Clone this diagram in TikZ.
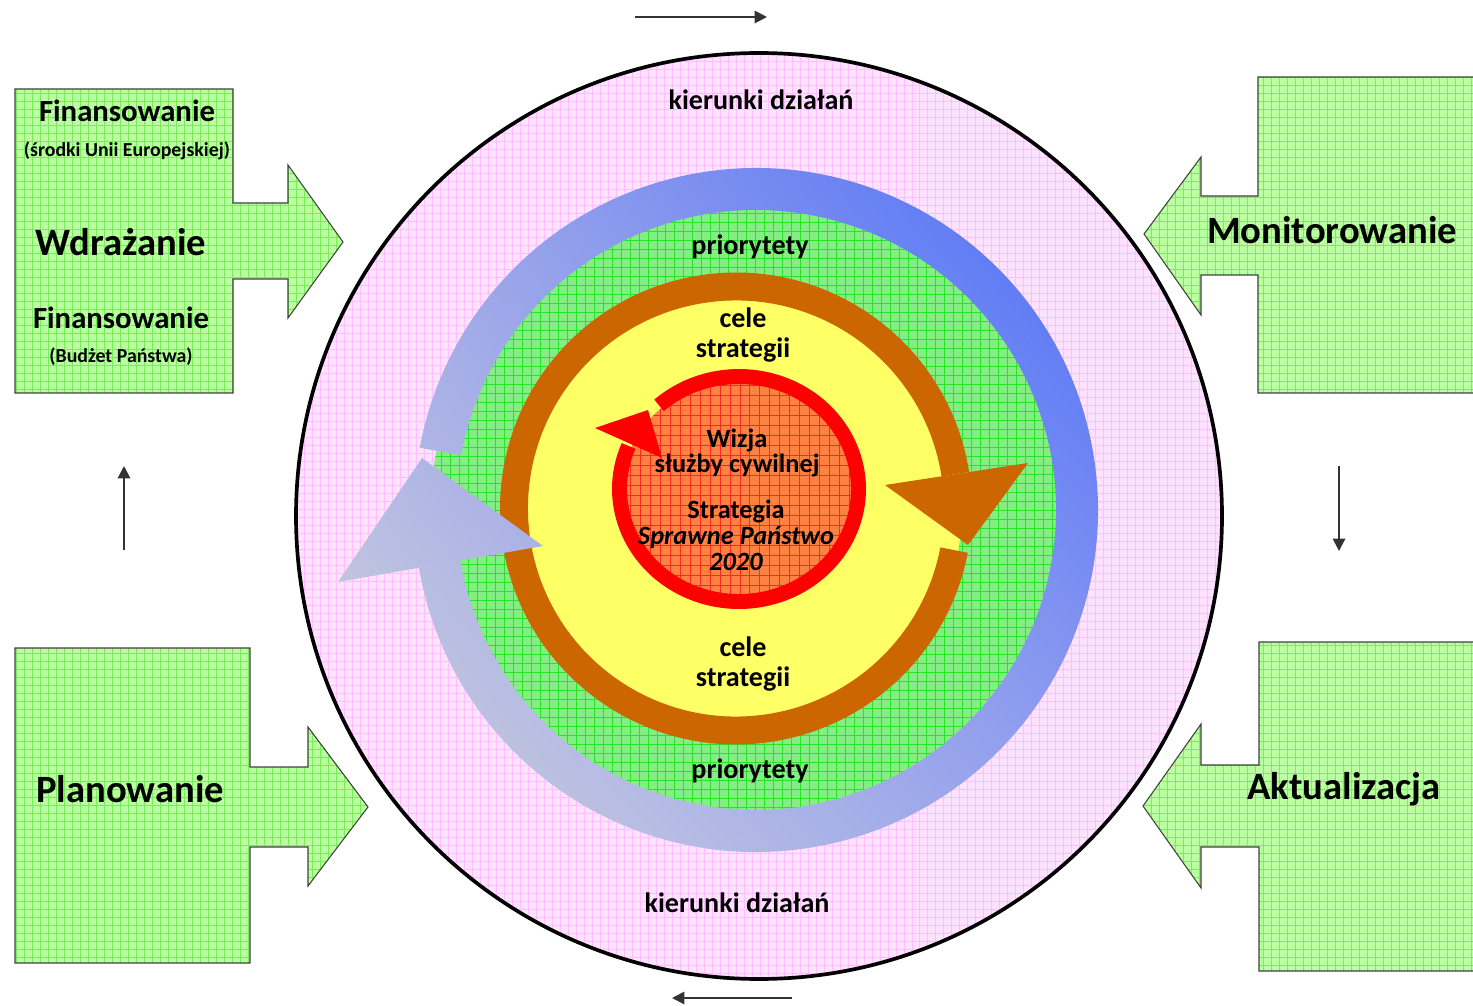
\documentclass[tikz,border=0pt]{standalone}
\usepackage{fontspec}
\setmainfont{Carlito}
\usepackage{tikz}
\usetikzlibrary{arrows.meta,shadings}

\definecolor{pinkfill}{RGB}{255,226,255}
\definecolor{pinkgrid}{RGB}{255,190,255}
\definecolor{discgreen}{RGB}{132,238,132}
\definecolor{discgrid}{RGB}{40,228,40}
\definecolor{boxgreen}{RGB}{186,255,160}
\definecolor{boxgrid}{RGB}{120,236,90}
\definecolor{orangefill}{RGB}{255,130,66}
\definecolor{orangegrid}{RGB}{255,40,30}
\definecolor{yellowfill}{RGB}{255,255,102}
\definecolor{brownring}{RGB}{204,102,0}
\definecolor{redring}{RGB}{255,0,0}
\definecolor{blueA}{RGB}{70,105,250}
\definecolor{blueB}{RGB}{165,172,232}
\definecolor{blueC}{RGB}{150,162,238}
\definecolor{blueD}{RGB}{212,212,218}

\begin{document}
\begin{tikzpicture}[
	x=0.02cm, y=0.02cm,
	gridded/.style n args={3}{
		fill=#1,
		path picture={\draw[#2, line width=0.4pt, step=#3]
			(path picture bounding box.south west) grid (path picture bounding box.north east);}
		},
	arrowbox/.style={
		gridded={boxgreen}{boxgrid}{0.16cm},
		draw=black!75,
		line width=0.6pt
		},
	bluegrad/.style={
		path picture={\shade[upper left=blueB, upper right=blueA, lower left=blueD, lower right=blueC]
			(330,150) rectangle (1100,840);}
		},
	big/.style={font=\fontsize{22}{26}\selectfont\bfseries},
	mid/.style={font=\fontsize{17.5}{21}\selectfont\bfseries},
	small/.style={font=\fontsize{11.3}{13}\selectfont\bfseries},
	ringtxt/.style={font=\fontsize{16}{17}\selectfont\bfseries, align=center},
	core/.style={font=\fontsize{15}{14.5}\selectfont\bfseries, align=center},
	flow/.style={draw=black!80, line width=1.1pt, -{Triangle[length=7pt,width=7pt]}}
]
\useasboundingbox (0,0) rectangle (1473,1005);

% Centres
\coordinate (pc) at (759,489);
\coordinate (bc) at (756,495);
\coordinate (oc) at (736,496.5);
\coordinate (rc) at (739,516);

% Outer disc
\path[gridded={pinkfill}{pinkgrid}{0.16cm}] (pc) circle[radius=463];
\draw[line width=2.1pt] (pc) circle[radius=463];
\path[gridded={discgreen}{discgrid}{0.18cm}] (bc) circle[radius=325];

% Strategy ring
\fill[yellowfill] (oc) circle[radius=226];
\draw[brownring, line width=15.9pt] ([shift={(oc)}]8.9:222) arc[start angle=8.9, end angle=349.2, radius=222];
\fill[brownring] (885,520) -- (1028,542) -- (968,460) -- cycle;

% Core
\path[gridded={orangefill}{orangegrid}{0.2cm}] (rc) ellipse[x radius=116, y radius=109];
\draw[redring, line width=8.5pt] ([shift={(rc)}]157.5:119.5 and 112.5) arc[start angle=157.5, end angle=492, x radius=119.5, y radius=112.5];
\fill[redring] (595,577) -- (662,547) -- (648,595) -- cycle;

% Priorities ring
\path[bluegrad] ([shift={(bc)}]189.7:342) arc[start angle=189.7, end angle=529.5, radius=342]
	-- ([shift={(bc)}]529.5:300) arc[start angle=529.5, end angle=189.7, radius=300] -- cycle;
\path[bluegrad] (338,423) -- (543,459) -- (422,547) -- cycle;

% Labels
\node[ringtxt] (kierTop) at (761,905) {kierunki działań};
\node[ringtxt] (kierBot) at (737,102) {kierunki działań};
\node[ringtxt] (prioTop) at (750,758) {priorytety};
\node[ringtxt] (prioBot) at (750,234) {priorytety};
\node[ringtxt] (celeTop) at (743,670) {cele\\strategii};
\node[ringtxt] (celeBot) at (743,341) {cele\\strategii};
\node[core] (wizja) at (737,552) {Wizja\\służby cywilnej};
\node[core, font=\fontsize{15}{14.8}\selectfont\bfseries] (strat) at (736,470) {Strategia\\\textit{Sprawne Państwo}\\\textit{2020}};

% Side blocks
\path[arrowbox] (15,916) -- (233,916) -- (233,802) -- (288,802) -- (288,840) -- (343,763)
	-- (288,687) -- (288,726) -- (233,726) -- (233,612) -- (15,612) -- cycle;
\path[arrowbox] (15,357) -- (250,357) -- (250,238) -- (308,238) -- (308,278) -- (368,198)
	-- (308,119) -- (308,158) -- (250,158) -- (250,42) -- (15,42) -- cycle;
\path[arrowbox] (1480,928) -- (1258,928) -- (1258,809) -- (1201,809) -- (1201,848) -- (1144,771)
	-- (1201,690) -- (1201,730) -- (1258,730) -- (1258,612) -- (1480,612) -- cycle;
\path[arrowbox] (1480,363) -- (1259,363) -- (1259,240) -- (1201,240) -- (1201,281) -- (1143,199)
	-- (1201,117) -- (1201,158) -- (1259,158) -- (1259,34) -- (1480,34) -- cycle;

\node[mid] (finUE) at (127,894) {Finansowanie};
\node[small] (ue) at (127,854) {(środki Unii Europejskiej)};
\node[big] (wdr) at (121,763) {Wdrażanie};
\node[mid] (finBP) at (121,687) {Finansowanie};
\node[small] (bp) at (121,648) {(Budżet Państwa)};
\node[big] (plan) at (130,216) {Planowanie};
\node[big] (mon) at (1332,775) {Monitorowanie};
\node[big] (akt) at (1344,216) {Aktualizacja};

% Cycle arrows
\coordinate (topA) at (635,988);
\coordinate (topB) at (767,988);
\coordinate (botA) at (792,7);
\coordinate (botB) at (672,7);
\coordinate (leftA) at (124,455);
\coordinate (leftB) at (124,539);
\coordinate (rightA) at (1339,539);
\coordinate (rightB) at (1339,454);
\draw[flow] (topA) -- (topB);
\draw[flow] (rightA) -- (rightB);
\draw[flow] (botA) -- (botB);
\draw[flow] (leftA) -- (leftB);
\end{tikzpicture}
\end{document}
